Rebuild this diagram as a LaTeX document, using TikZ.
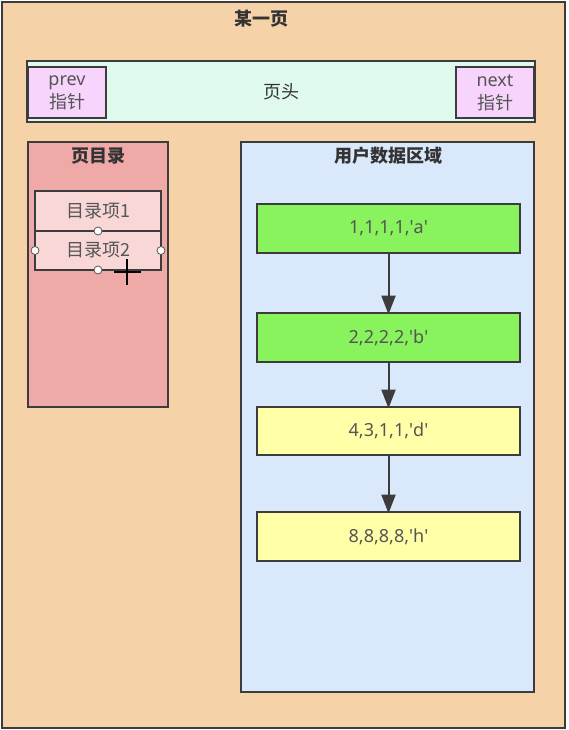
\documentclass[tikz,border=0pt]{standalone}
\usepackage{fontspec}
\setmainfont{Noto Sans}
\newfontfamily\cjk{Noto Sans CJK SC}
\usetikzlibrary{arrows.meta}
\definecolor{pagebg}{HTML}{F6D2A9}
\definecolor{headbg}{HTML}{DFFAEC}
\definecolor{ptrbg}{HTML}{F6D4FB}
\definecolor{dirbg}{HTML}{EFA9A7}
\definecolor{itembg}{HTML}{F8D7D6}
\definecolor{userbg}{HTML}{DAE8FC}
\definecolor{recgreen}{HTML}{88F35C}
\definecolor{recyellow}{HTML}{FFFFA8}
\definecolor{edge}{HTML}{3C3C3C}
\definecolor{txt}{HTML}{333333}
\definecolor{txtlight}{HTML}{555555}
\tikzset{
  boxed/.style={draw=edge, line width=1.5pt, rectangle, inner sep=0pt, outer sep=0pt, text=txt},
  rec/.style={boxed, minimum width=263*0.75pt, align=center, text=txtlight, font=\fontsize{13.5}{16}\selectfont},
  titletext/.style={text=txt, font=\cjk\bfseries\fontsize{13.5}{16}\selectfont, inner sep=0pt},
  ptr/.style={boxed, fill=ptrbg, minimum width=78*0.75pt, minimum height=51*0.75pt, align=center, text=txtlight, font=\fontsize{13.5}{17}\selectfont},
  itemtext/.style={boxed, fill=itembg, minimum width=126*0.75pt, text=txtlight, font=\cjk\fontsize{13.5}{16}\selectfont},
  handle/.style={circle, draw=txtlight, fill=white, line width=0.6pt, minimum size=6pt, inner sep=0pt},
  flow/.style={draw=edge, line width=1.5pt, -{Triangle[length=14pt,width=10.5pt]}, shorten >=-1pt}
}
\begin{document}
\begin{tikzpicture}[x=0.75pt,y=-0.75pt]
\useasboundingbox (0,0) rectangle (568,730);
% page
\node[boxed, fill=pagebg, minimum width=563*0.75pt, minimum height=726*0.75pt] (page) at (283.5,365) {};
\node[titletext] (pagetitle) at (261,19) {某一页};
% header
\node[boxed, fill=headbg, minimum width=508*0.75pt, minimum height=61*0.75pt, font=\cjk\fontsize{13.5}{16}\selectfont] (head) at (281,91.5) {页头};
\node[ptr] (prev) at (67,92.5) {prev\\{\cjk 指针}};
\node[ptr] (next) at (495,92.5) {next\\{\cjk 指针}};
% page directory
\node[boxed, fill=dirbg, minimum width=140*0.75pt, minimum height=265*0.75pt] (dir) at (98,274.5) {};
\node[titletext] (dirtitle) at (98,156) {页目录};
\node[itemtext, minimum height=40*0.75pt] (item1) at (98,211) {目录项1};
\node[itemtext, minimum height=39*0.75pt] (item2) at (98,250.5) {目录项2};
\node[handle] (h1) at (item2.north) {};
\node[handle] (h2) at (item2.west) {};
\node[handle] (h3) at (item2.east) {};
\node[handle] (h4) at (item2.south) {};
% cursor
\coordinate (cx1) at (114,272);
\coordinate (cx2) at (141,272);
\coordinate (cy1) at (127,259);
\coordinate (cy2) at (127,285);
\draw[black, line width=1.3pt] (cx1) -- (cx2);
\draw[black, line width=1.3pt] (cy1) -- (cy2);
% user data
\node[boxed, fill=userbg, minimum width=293*0.75pt, minimum height=550*0.75pt] (user) at (387.5,417) {};
\node[titletext] (usertitle) at (388,156) {用户数据区域};
\node[rec, fill=recgreen, minimum height=49*0.75pt] (r1) at (388.5,228.5) {1,1,1,1,\textquotesingle a\textquotesingle};
\node[rec, fill=recgreen, minimum height=49*0.75pt] (r2) at (388.5,337.5) {2,2,2,2,\textquotesingle b\textquotesingle};
\node[rec, fill=recyellow, minimum height=48*0.75pt] (r3) at (388.5,431) {4,3,1,1,\textquotesingle d\textquotesingle};
\node[rec, fill=recyellow, minimum height=49*0.75pt] (r4) at (388.5,536.5) {8,8,8,8,\textquotesingle h\textquotesingle};
\draw[flow] (r1) -- (r2);
\draw[flow] (r2) -- (r3);
\draw[flow] (r3) -- (r4);
\end{tikzpicture}
\end{document}
